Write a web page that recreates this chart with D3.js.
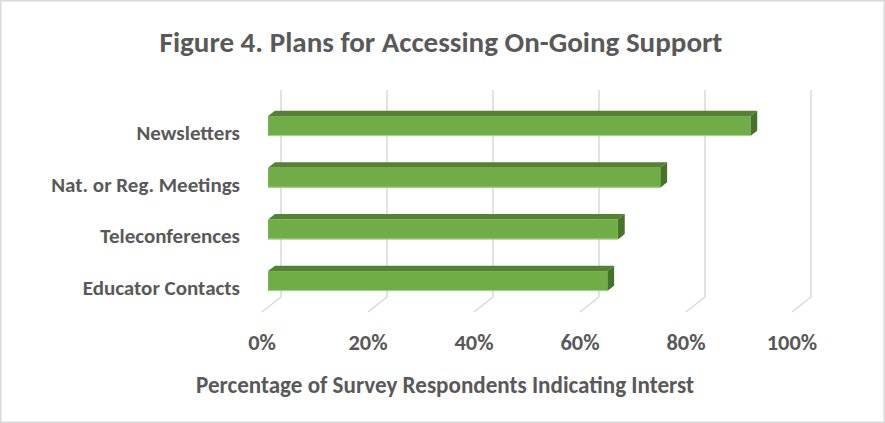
<!DOCTYPE html>
<html>
<head>
<meta charset="utf-8">
<script src="https://cdn.jsdelivr.net/npm/d3@7"></script>
<style>
  html, body { margin: 0; padding: 0; background: #fff; }
  svg { display: block; }
  text { font-family: Carlito, Lato, "Open Sans", "DejaVu Sans", sans-serif; font-weight: bold; fill: #595959; }
</style>
</head>
<body>
<svg id="chart" width="885" height="423"></svg>
<script>
const categories = ["Newsletters", "Nat. or Reg. Meetings", "Teleconferences", "Educator Contacts"];
const values = [0.91, 0.74, 0.66, 0.64];
const tickValues = [0, 0.2, 0.4, 0.6, 0.8, 1.0];
const titleText = "Figure 4. Plans for Accessing On-Going Support";
const xAxisTitle = "Percentage of Survey Respondents Indicating Interst";

const W = 885, H = 423;
const svg = d3.select("#chart");

// border
svg.append("rect").attr("x", 0.75).attr("y", 0.75).attr("width", W - 1.5).attr("height", H - 1.5)
  .attr("fill", "#fff").attr("stroke", "#d9d9d9").attr("stroke-width", 1.5);

// 3D geometry: front floor edge and back wall offset
const x = d3.scaleLinear().domain([0, 1]).range([262, 792]);
const depthDX = 19, depthDY = -15;   // back wall offset from front floor
const floorY = 312;                   // front floor edge
const wallTop = 90;
const barF1 = 0.32, barF2 = 0.68;     // bar depth fraction

const y = d3.scaleBand().domain(categories).range([100.2, 306.9]).paddingInner(0.613).paddingOuter(0.3065);

// gridlines (back wall + floor)
const grid = svg.append("g");
tickValues.forEach(t => {
  const bx = x(t) + depthDX, by = floorY + depthDY;
  grid.append("line").attr("x1", bx).attr("x2", bx).attr("y1", wallTop).attr("y2", by)
    .attr("stroke", "#d9d9d9").attr("stroke-width", 1.5);
  grid.append("line").attr("x1", bx).attr("x2", x(t)).attr("y1", by).attr("y2", floorY)
    .attr("stroke", "#d9d9d9").attr("stroke-width", 1.5);
});

// bars
const dx = (barF2 - barF1) * depthDX, dy = (barF2 - barF1) * depthDY;
const off = barF1 * depthDX;
const bars = svg.append("g");
categories.forEach((c, i) => {
  const x0 = x(0) + off, xe = x(values[i]) + off;
  const yt = y(c), h = y.bandwidth();
  bars.append("polygon")
    .attr("points", [[x0, yt], [x0 + dx, yt + dy], [xe + dx, yt + dy], [xe, yt]].map(p => p.join(",")).join(" "))
    .attr("fill", "#548235");
  bars.append("polygon")
    .attr("points", [[xe, yt], [xe + dx, yt + dy], [xe + dx, yt + h + dy], [xe, yt + h]].map(p => p.join(",")).join(" "))
    .attr("fill", "#46722a");
  bars.append("rect").attr("x", x0).attr("y", yt).attr("width", xe - x0).attr("height", h)
    .attr("fill", "#70ad47");
  bars.append("line").attr("x1", x0).attr("x2", xe).attr("y1", yt + h - 0.5).attr("y2", yt + h - 0.5)
    .attr("stroke", "#a9d18e").attr("stroke-width", 1);
});

function fitSize(sel, targetW) {
  const fs = parseFloat(sel.attr("font-size"));
  const w = sel.node().getComputedTextLength();
  return fs * targetW / w;
}

// category labels: size chosen as mean of per-label fits to the reference extents
const catTargets = [112, 178, 125, 170];
const catG = svg.append("g");
const catLabels = categories.map(c =>
  catG.append("text").attr("x", 240).attr("y", y(c) + y.bandwidth() / 2 + 7)
    .attr("text-anchor", "end").attr("dominant-baseline", "central")
    .attr("font-size", 17).text(c));
const catFs = d3.mean(catLabels.map((l, i) => fitSize(l, catTargets[i])));
catLabels.forEach(l => l.attr("font-size", catFs.toFixed(2)));

// tick labels
const tickG = svg.append("g");
const tickLabels = tickValues.map(t =>
  tickG.append("text").attr("x", x(t)).attr("y", 342).attr("text-anchor", "middle")
    .attr("dominant-baseline", "central").attr("font-size", 17).text(d3.format(".0%")(t)));
const tFs = d3.mean([fitSize(tickLabels[5], 50), fitSize(tickLabels[0], 28)]);
tickLabels.forEach(l => l.attr("font-size", tFs.toFixed(2)));

// axis title
const at = svg.append("text").attr("x", 445).attr("y", 385).attr("text-anchor", "middle")
  .attr("dominant-baseline", "central").attr("font-size", 17).text(xAxisTitle);
at.attr("font-size", fitSize(at, 498).toFixed(2));

// title
const tt = svg.append("text").attr("x", 441).attr("y", 42).attr("text-anchor", "middle")
  .attr("dominant-baseline", "central").attr("font-size", 22).text(titleText);
tt.attr("font-size", fitSize(tt, 563).toFixed(2));
</script>
</body>
</html>
